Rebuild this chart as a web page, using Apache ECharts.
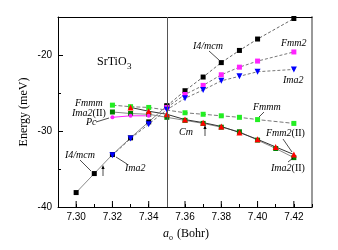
<!DOCTYPE html>
<html><head><meta charset="utf-8">
<script src="https://cdn.jsdelivr.net/npm/echarts@6/dist/echarts.min.js"></script>
<style>html,body{margin:0;padding:0;background:#fff}#c{width:338px;height:250px}</style>
</head><body><div id="c"></div>
<script>
// ---- data (lattice parameter a0 in Bohr, energy in meV) ----
var i4mcmX = [7.30,7.31,7.32,7.33,7.34,7.35,7.36,7.37,7.38,7.39,7.40,7.42];
var i4mcmY = [-38.1,-35.6,-33.1,-30.9,-28.8,-26.7,-24.7,-22.9,-21.0,-19.4,-17.9,-15.2];
var ima2X  = [7.32,7.33,7.34,7.35,7.36,7.37,7.38,7.39,7.40,7.42];
var ima2Y  = [-33.2,-31.0,-29.1,-27.2,-25.7,-24.6,-23.4,-22.8,-22.2,-21.9];
var fmm2X  = [7.35,7.36,7.37,7.38,7.39,7.40,7.42];
var fmm2Y  = [-26.9,-25.2,-24.0,-22.6,-21.6,-20.8,-19.6];
var fmmmX  = [7.32,7.33,7.34,7.36,7.37,7.38,7.39,7.40,7.42];
var fmmmY  = [-26.6,-26.8,-26.9,-27.6,-27.8,-28.0,-28.2,-28.5,-29.0];
var fmm2IIX = [7.33,7.34,7.35,7.36,7.37,7.38,7.39,7.40,7.41,7.42];
var fmm2IIY = [-26.9,-27.4,-27.8,-28.5,-28.9,-29.4,-30.2,-31.1,-32.1,-33.1];
var ima2IIX = [7.32,7.33,7.34,7.35,7.36,7.37,7.38,7.39,7.40,7.41,7.42];
var ima2IIY = [-27.5,-27.7,-27.8,-28.2,-28.6,-29.0,-29.5,-30.1,-31.2,-32.3,-33.5];
var pcX = [7.32,7.33,7.34];
var pcY = [-28.2,-28.0,-28.0];
var transitionX = 7.35;
var xMajorTicks = [7.30,7.32,7.34,7.36,7.38,7.40,7.42];

function pairs(xs, ys){ return xs.map(function(x,i){ return [x, ys[i]]; }); }
var i4All = pairs(i4mcmX, i4mcmY);
var i4Low = i4All.filter(function(p){ return p[0] <= transitionX + 1e-9; });
var i4High = i4All.filter(function(p){ return p[0] >= transitionX - 1e-9; });

var serif = 'Liberation Serif';
var sans = 'Liberation Sans';
var chart = echarts.init(document.getElementById('c'), null, {renderer:'canvas'});

function lineSeries(name, data, color, symbol, size, lcolor, ltype, showSym){
  return {name:name, type:'line', data:data, symbol: showSym===false?'none':symbol, symbolSize:size,
    itemStyle:{color:color}, lineStyle:{color:lcolor, width:1, type:ltype}, animation:false, z:3};
}
function lab(x,y,t,size){
  return {type:'text', x:x, y:y, z:20, style:{text:t, fill:'#000', verticalAlign:'middle', textVerticalAlign:'middle',
    rich:{i:{fontFamily:serif, fontStyle:'italic', fontSize:size||10, fill:'#000'}, n:{fontFamily:serif, fontSize:size||10, fill:'#000'}}}};
}
function seg(x1,y1,x2,y2){ return {type:'line', z:20, shape:{x1:x1,y1:y1,x2:x2,y2:y2}, style:{stroke:'#000', lineWidth:0.7}}; }
function arrow(x,y1,y2){
  return [seg(x,y1,x,y2+2), {type:'polygon', z:20, shape:{points:[[x-1.6,y2+3],[x+1.6,y2+3],[x,y2-1]]}, style:{fill:'#000'}}];
}

var option = {
  animation:false,
  grid:{left:58, right:26, top:17, bottom:43},
  xAxis:[{type:'value', min:7.29, max:7.43, interval:0.01,
    axisLine:{lineStyle:{color:'#000', width:1}},
    axisTick:{inside:true, length:3, lineStyle:{color:'#000'}},
    axisLabel:{margin:5, fontFamily:sans, fontSize:10, color:'#000',
      formatter:function(v){ var k=Math.round(v*100); return (k%2===0 && v>7.295 && v<7.425)? (k/100).toFixed(2):''; }},
    splitLine:{show:false}},
   {type:'value', position:'top', min:7.29, max:7.43, axisLine:{lineStyle:{color:'#000'}}, axisTick:{show:false}, axisLabel:{show:false}, splitLine:{show:false}}],
  yAxis:[{type:'value', min:-40, max:-15, interval:10,
    axisLine:{lineStyle:{color:'#000'}},
    axisTick:{inside:true, length:5, lineStyle:{color:'#000'}},
    minorTick:{show:true, splitNumber:2, length:3, lineStyle:{color:'#000'}},
    axisLabel:{margin:6, fontFamily:sans, fontSize:10, color:'#000', showMaxLabel:false,
      formatter:function(v){ return (Math.round(v)%10===0)? String(Math.round(v)) : ''; }},
    splitLine:{show:false}, minorSplitLine:{show:false}},
   {type:'value', position:'right', min:-40, max:-15, axisLine:{show:true, lineStyle:{color:'#999', width:2}}, axisTick:{show:false}, axisLabel:{show:false}, splitLine:{show:false}}],
  series:[
    {name:'majorTicks', type:'custom', data:xMajorTicks.map(function(x){return [x];}), silent:true, clip:false, z:5,
      renderItem:function(params, api){ var p=api.coord([api.value(0), -40]);
        return {type:'line', shape:{x1:p[0], y1:p[1], x2:p[0], y2:p[1]-6}, style:{stroke:'#000', lineWidth:1}}; }},
    lineSeries('Ima2(II)', pairs(ima2IIX, ima2IIY), '#008000', 'rect', 5, '#888', 'solid'),
    lineSeries('Fmmm', pairs(fmmmX, fmmmY), '#22ee22', 'rect', 5, '#777', [4,2]),
    lineSeries('Fmm2(II)', pairs(fmm2IIX, fmm2IIY), '#ff0000', 'triangle', 6, '#333', 'solid'),
    lineSeries('Pc', pairs(pcX, pcY), '#ff22ff', 'circle', 4, '#ff22ff', 'solid'),
    lineSeries('I4/mcm low', i4Low, '#000', 'rect', 5, '#888', 'solid'),
    lineSeries('I4/mcm', i4High, '#000', 'rect', 5, '#666', [3,2]),
    lineSeries('Fmm2', pairs(fmm2X, fmm2Y), '#ff22ff', 'rect', 5, '#777', [3,2]),
    (function(){ var s=lineSeries('Ima2', pairs(ima2X, ima2Y), '#0000ff', 'triangle', 6, '#777', [3,2]);
       s.symbolRotate=180;
       s.markLine={silent:true, symbol:'none', label:{show:false}, lineStyle:{color:'#555', width:1, type:'solid'}, data:[{xAxis:transitionX}]};
       return s; })()
  ],
  graphic:[
    {type:'text', x:97, y:62, z:20, style:{text:'SrTiO', font:'12px "Liberation Serif"', fill:'#000', verticalAlign:'middle', textVerticalAlign:'middle'}},
    {type:'text', x:127, y:67, z:20, style:{text:'3', font:'9px "Liberation Serif"', fill:'#000', verticalAlign:'middle', textVerticalAlign:'middle'}},
    lab(193,46,'{i|I4/mcm}'), seg(209,51,219,60),
    lab(281,43,'{i|Fmm2}'),
    lab(283,80,'{i|Ima2}'),
    lab(253,107,'{i|Fmmm}'), seg(264,112,259,117),
    lab(266,133,'{i|Fmm2}{n|(II)}'), seg(283,139,292,152),
    lab(271,168,'{i|Ima2}{n|(II)}'), seg(288,162,293,158),
    lab(179,132,'{i|Cm}'),
    lab(75,103,'{i|Fmmm}'),
    lab(72,113,'{i|Ima2}{n|(II)}'),
    lab(86,122,'{i|Pc}'), seg(96,122,109,118),
    lab(65,155,'{i|I4/mcm}'), seg(80,160,91,171),
    lab(125,168,'{i|Ima2}'), seg(127,164,116,157),
    {type:'text', x:24, y:112, rotation:Math.PI/2, z:20, style:{text:'Energy (meV)', font:'12px "Liberation Serif"', fill:'#000', align:'center', textAlign:'center', verticalAlign:'middle', textVerticalAlign:'middle'}},
    {type:'text', x:163, y:234, z:20, style:{text:'a', font:'italic 12px "Liberation Serif"', fill:'#000', verticalAlign:'middle', textVerticalAlign:'middle'}},
    {type:'text', x:169, y:238, z:20, style:{text:'o', font:'8px "Liberation Serif"', fill:'#000', verticalAlign:'middle', textVerticalAlign:'middle'}},
    {type:'text', x:177, y:234, z:20, style:{text:'(Bohr)', font:'12px "Liberation Serif"', fill:'#000', verticalAlign:'middle', textVerticalAlign:'middle'}}
  ].concat(arrow(205,136,126)).concat(arrow(103,176,166))
};
chart.setOption(option);
</script></body></html>
